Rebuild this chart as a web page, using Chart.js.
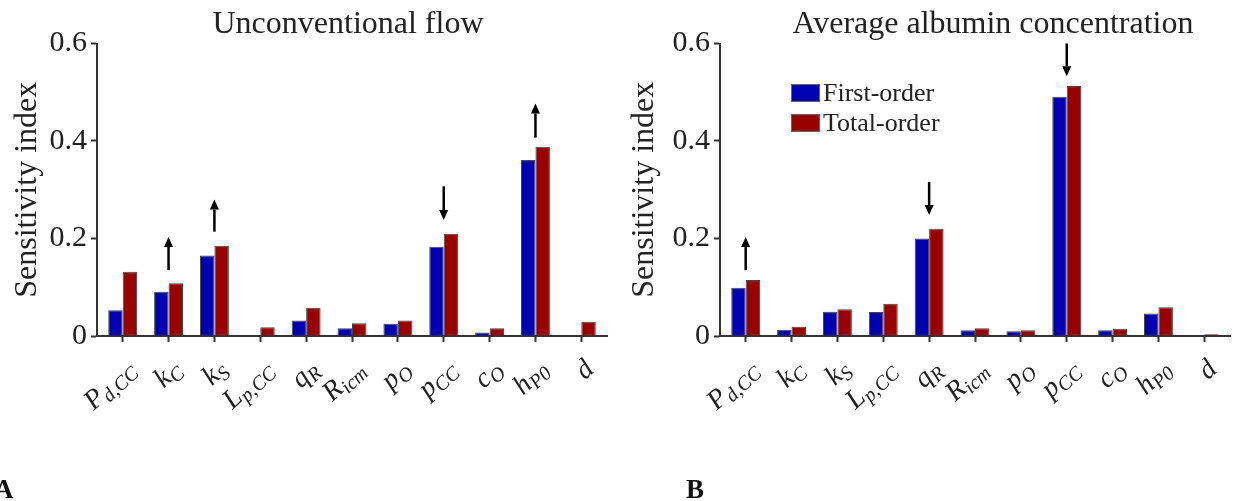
<!DOCTYPE html>
<html>
<head>
<meta charset="utf-8">
<script src="https://cdn.jsdelivr.net/npm/chart.js@4.4.1/dist/chart.umd.min.js"></script>
<style>
    html, body { margin: 0; padding: 0; background: #fff; }
    #wrap { position: relative; width: 1235px; height: 501px; overflow: hidden; }
    .box { position: absolute; top: 0; height: 501px; }
    #boxA { left: 0; width: 617px; }
    #boxB { left: 617px; width: 618px; }
    .panel { position: absolute; top: 474px; line-height: 27px; font: bold 27px 'Liberation Serif', serif; color: #111; }
</style>
</head>
<body>
<div id="wrap">
    <div class="box" id="boxA"><canvas id="chartA" width="617" height="501"></canvas></div>
    <div class="box" id="boxB"><canvas id="chartB" width="618" height="501"></canvas></div>
    <div class="panel" style="left:-6px">A</div>
    <div class="panel" style="left:686px">B</div>
</div>
<script>
// categorias (parâmetro + subscrito)
const labelMain = ['P', 'k', 'k', 'L', 'q', 'R', 'p', 'p', 'c', 'h', 'd'];
const labelSub = ['d,CC', 'C', 'S', 'p,CC', 'R', 'icm', 'O', 'CC', 'O', 'P0', ''];

// A: Unconventional flow
const firstOrderA = [0.053, 0.091, 0.165, 0.001, 0.032, 0.016, 0.025, 0.183, 0.007, 0.361, 0.001];
const totalOrderA = [0.132, 0.108, 0.185, 0.018, 0.058, 0.026, 0.032, 0.210, 0.016, 0.388, 0.029];

// B: Average albumin concentration
const firstOrderB = [0.099, 0.013, 0.050, 0.049, 0.200, 0.012, 0.010, 0.491, 0.012, 0.046, 0.001];
const totalOrderB = [0.115, 0.019, 0.055, 0.066, 0.220, 0.016, 0.012, 0.513, 0.015, 0.059, 0.0035];

const yTicks = [0, 0.2, 0.4, 0.6];

// setas: índice da categoria, valor de início, valor da ponta
const arrowCatA = [1, 2, 7, 9];
const arrowFromA = [0.135, 0.214, 0.307, 0.407];
const arrowToA = [0.203, 0.280, 0.238, 0.477];
const arrowCatB = [0, 4, 7];
const arrowFromB = [0.135, 0.316, 0.600];
const arrowToB = [0.203, 0.248, 0.533];

const fam = "'Liberation Serif', 'DejaVu Serif', serif";
const BLUE = '#0000B3';
const RED = '#990000';
const INK = '#222';

const toXY = (arr) => arr.map((v, i) => ({ x: i + 1, y: v }));

// desenha título, rótulos do eixo x, setas e legenda
const decorPlugin = {
    id: 'decor',
    afterDraw(chart, args, opts) {
        const ctx = chart.ctx;
        const xs = chart.scales.x;
        const ys = chart.scales.y;
        ctx.save();

        // título
        ctx.fillStyle = INK;
        ctx.font = `32px ${fam}`;
        ctx.textAlign = 'center';
        ctx.textBaseline = 'alphabetic';
        ctx.fillText(opts.title, opts.titleX, 33);

        // rótulos rotacionados
        const ang = -43 * Math.PI / 180;
        labelMain.forEach((m, i) => {
            const px = xs.getPixelForValue(i + 1);
            ctx.save();
            ctx.translate(px + 14, 371);
            ctx.rotate(ang);
            ctx.textAlign = 'left';
            ctx.font = `italic 28px ${fam}`;
            const wm = ctx.measureText(m).width;
            ctx.font = `italic 20px ${fam}`;
            const sub = labelSub[i];
            const ws = sub ? ctx.measureText(sub).width : 0;
            const x0 = -(wm + ws);
            ctx.font = `italic 28px ${fam}`;
            ctx.fillText(m, x0, 0);
            if (sub) {
                ctx.font = `italic 20px ${fam}`;
                ctx.fillText(sub, x0 + wm, 5);
            }
            ctx.restore();
        });

        // setas
        ctx.strokeStyle = '#000';
        ctx.fillStyle = '#000';
        ctx.lineWidth = 2.5;
        opts.arrowCat.forEach((c, k) => {
            const x = xs.getPixelForValue(c + 1);
            const y1 = ys.getPixelForValue(opts.arrowFrom[k]);
            const y2 = ys.getPixelForValue(opts.arrowTo[k]);
            const dir = y2 < y1 ? -1 : 1;
            const head = 10;
            ctx.beginPath();
            ctx.moveTo(x, y1);
            ctx.lineTo(x, y2 - dir * head);
            ctx.stroke();
            ctx.beginPath();
            ctx.moveTo(x, y2);
            ctx.lineTo(x - 4.5, y2 - dir * head);
            ctx.lineTo(x + 4.5, y2 - dir * head);
            ctx.closePath();
            ctx.fill();
        });

        // legenda dentro do gráfico
        if (opts.legend) {
            const lx = opts.legendX;
            let ly = opts.legendY;
            chart.data.datasets.forEach((ds) => {
                ctx.fillStyle = ds.backgroundColor;
                ctx.fillRect(lx, ly, 29, 18);
                ctx.strokeStyle = '#666';
                ctx.lineWidth = 1;
                ctx.strokeRect(lx + 0.5, ly + 0.5, 28, 17);
                ctx.fillStyle = INK;
                ctx.font = `26px ${fam}`;
                ctx.textAlign = 'left';
                ctx.fillText(ds.label, lx + 32, ly + 17);
                ly += 30;
            });
        }
        ctx.restore();
    }
};

const makeChart = (id, first, total, decor, rightPad) => new Chart(document.getElementById(id), {
    type: 'bar',
    data: {
        datasets: [
            { label: 'First-order', data: toXY(first), backgroundColor: BLUE, borderColor: '#444', borderWidth: 1 },
            { label: 'Total-order', data: toXY(total), backgroundColor: RED, borderColor: '#444', borderWidth: 1 }
        ]
    },
    options: {
        responsive: false,
        animation: false,
        events: [],
        layout: { padding: { left: 0, top: 43.5, right: rightPad, bottom: 0 } },
        datasets: { bar: { categoryPercentage: 0.63, barPercentage: 1 } },
        scales: {
            x: {
                type: 'linear',
                min: 0.44,
                max: 11.56,
                offset: false,
                afterBuildTicks: (s) => { s.ticks = labelMain.map((_, i) => ({ value: i + 1 })); },
                ticks: { display: false },
                grid: { offset: false, drawOnChartArea: false, drawTicks: true, tickLength: 6, tickWidth: 2, tickColor: '#333' },
                border: { display: true, color: '#333', width: 2 },
                afterFit: (s) => { s.height = 501 - 336; }
            },
            y: {
                min: 0,
                max: 0.6,
                afterBuildTicks: (s) => { s.ticks = yTicks.map((v) => ({ value: v })); },
                ticks: {
                    font: { family: fam, size: 30 },
                    color: INK,
                    padding: 4,
                    callback: (v) => (v === 0 ? '0' : v.toFixed(1))
                },
                grid: { drawOnChartArea: false, tickLength: 6, tickWidth: 2, tickColor: '#333' },
                border: { color: '#333', width: 2 },
                title: { display: true, text: 'Sensitivity index', color: INK, font: { family: fam, size: 32 }, padding: { top: 8, bottom: 0 } },
                afterFit: (s) => { s.width = decor.axisLeft; }
            }
        },
        plugins: {
            legend: { display: false },
            tooltip: { enabled: false },
            decor
        }
    },
    plugins: [decorPlugin]
});

makeChart('chartA', firstOrderA, totalOrderA, {
    title: 'Unconventional flow', titleX: 348, axisLeft: 97,
    arrowCat: arrowCatA, arrowFrom: arrowFromA, arrowTo: arrowToA, legend: false
}, 10);

makeChart('chartB', firstOrderB, totalOrderB, {
    title: 'Average albumin concentration', titleX: 376, axisLeft: 103,
    arrowCat: arrowCatB, arrowFrom: arrowFromB, arrowTo: arrowToB,
    legend: true, legendX: 174, legendY: 84
}, 5);
</script>
</body>
</html>
